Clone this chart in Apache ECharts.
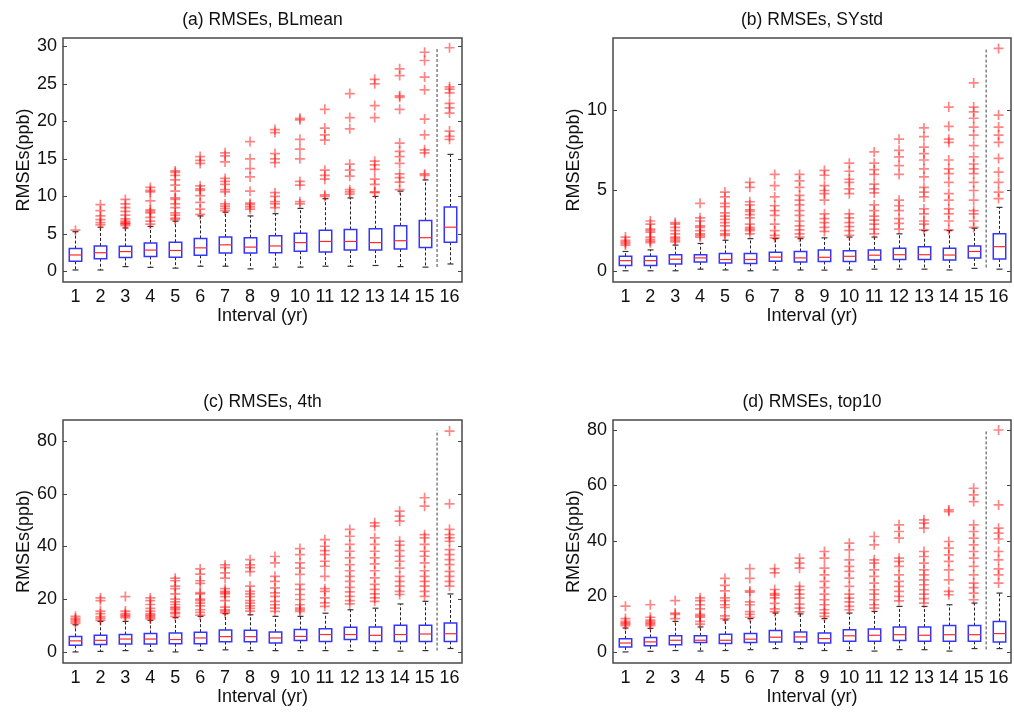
<!DOCTYPE html>
<html><head><meta charset="utf-8">
<script src="https://cdn.jsdelivr.net/npm/echarts@6/dist/echarts.min.js"></script>
<style>html,body{margin:0;padding:0;background:#fff}#c{width:1014px;height:713px}</style>
</head><body><div id="c"></div>
<script>
const categories = ['1','2','3','4','5','6','7','8','9','10','11','12','13','14','15','16'];
const xName = 'Interval (yr)';
const yName = 'RMSEs(ppb)';
const titles = ['(a) RMSEs, BLmean', '(b) RMSEs, SYstd', '(c) RMSEs, 4th', '(d) RMSEs, top10'];
const yTicksA = [0,5,10,15,20,25,30];
const yTicksB = [0,5,10];
const yTicksC = [0,20,40,60,80];
const yTicksD = [0,20,40,60,80];

// box stats per interval: [lower whisker, Q1, median, Q3, upper whisker]
const boxA = [[0.2,1.35,2.2,3.05,5.3],[0.2,1.7,2.5,3.4,5.9],[0.65,1.85,2.65,3.35,5.8],[0.55,2.0,2.85,3.8,6.0],
  [0.45,1.9,2.8,3.9,6.7],[0.7,2.15,3.15,4.4,7.4],[0.7,2.45,3.55,4.6,7.9],[0.35,2.45,3.25,4.5,7.4],
  [0.58,2.5,3.4,4.75,7.7],[0.58,2.7,3.85,5.1,8.4],[0.7,2.6,4.0,5.5,9.7],[0.7,2.85,4.0,5.6,9.8],
  [0.8,2.85,3.85,5.7,10.0],[0.65,3.0,4.1,6.1,10.7],[0.58,3.2,4.5,6.8,12.2],[1.0,3.9,5.9,8.6,15.6]];
const outA = [[5.5],[6.2,6.5,6.9,7.4,8.1,8.9],[6.1,6.3,6.4,6.5,6.7,7.0,7.5,8.0,8.5,9.0,9.6],
  [6.3,6.7,7.2,7.8,8.0,8.2,9.4,10.6,10.8,11.2],[6.9,7.1,7.5,7.8,8.5,9.0,9.6,9.8,10.7,11.5,12.2,12.8,13.2,13.4],
  [7.6,8.3,9.2,10.1,10.8,11.0,11.4,14.4,14.8,15.3],[8.1,8.4,8.7,9.0,10.6,10.9,11.6,12.0,12.4,14.6,15.4,15.8],
  [8.3,8.6,8.9,9.1,10.7,12.6,13.7,15.0,17.3],[8.5,9.0,9.3,10.0,10.5,14.5,15.0,15.7,18.5,18.9],
  [9.0,9.3,11.5,12.0,15.0,16.3,17.6,20.2,20.4],[10.0,10.2,12.3,12.8,13.5,17.5,18.2,19.1,21.6],
  [10.3,10.6,10.9,12.7,13.5,14.3,19.0,20.5,23.7],[10.5,10.6,11.6,12.3,13.6,14.2,14.7,20.5,22.1,25.0,25.6],
  [10.9,11.9,12.5,13.0,14.4,15.3,16.0,17.1,21.6,23.2,23.4,26.1,27.0],[12.8,13.0,15.8,16.2,18.2,20.3,24.2,25.9,28.1,29.2],
  [17.6,18.0,18.7,21.1,21.8,22.4,23.8,24.3,24.6,29.8]];
const sepA = [0.6, 29.8];

const boxB = [[0.0,0.33,0.63,0.9,1.2],[0.0,0.33,0.63,0.9,1.3],[0.0,0.42,0.72,1.0,1.6],[0.1,0.55,0.8,1.0,1.7],
  [0.05,0.48,0.7,1.08,1.9],[0.0,0.46,0.7,1.08,2.0],[0.05,0.6,0.85,1.15,2.0],[0.05,0.55,0.8,1.2,2.0],
  [0.04,0.58,0.84,1.3,2.05],[0.05,0.58,0.9,1.25,2.1],[0.1,0.67,0.97,1.3,2.1],[0.1,0.7,1.0,1.4,2.3],
  [0.1,0.7,1.0,1.5,2.5],[0.05,0.67,0.98,1.4,2.5],[0.15,0.8,1.2,1.55,2.65],[0.1,0.73,1.5,2.3,3.95]];
const outB = [[1.6,1.7,1.8,1.9,2.1],[1.75,1.85,1.95,2.1,2.4,2.5,2.6,2.9,3.1],[1.8,1.9,2.0,2.1,2.3,2.5,2.7,2.9,3.0],
  [2.1,2.2,2.3,2.5,2.7,2.8,3.1,3.3,4.2],[2.2,2.3,2.5,2.8,3.0,3.2,3.4,3.6,4.0,4.2,4.6,4.9],
  [2.3,2.5,2.6,2.7,2.9,3.3,3.5,3.7,3.8,4.1,4.3,5.2,5.5],[2.05,2.2,2.5,2.9,3.45,3.75,4.05,4.6,5.3,6.0],
  [2.1,2.3,2.55,2.8,3.1,3.45,3.75,4.1,4.4,4.7,5.2,5.6,6.0],[2.45,2.7,3.0,3.25,3.55,4.4,4.8,5.0,5.3,5.95,6.25],
  [2.2,2.5,2.75,3.0,3.3,3.55,4.8,5.1,5.5,5.7,6.2,6.7],[2.3,2.6,2.9,3.15,3.4,3.75,4.1,4.85,5.1,5.4,6.0,6.3,6.7,7.4],
  [2.6,2.95,3.25,3.75,4.05,4.4,6.0,6.55,7.1,7.5,8.2],[2.55,2.9,3.1,3.55,3.85,4.6,4.9,5.2,5.85,6.35,6.9,7.3,7.7,8.35,8.9],
  [2.55,3.1,3.55,3.85,4.4,4.8,5.5,6.05,6.35,6.9,8.0,8.2,9.0,10.2],
  [2.7,3.1,3.55,3.75,4.4,5.0,5.5,6.05,6.35,6.65,7.1,7.8,8.45,8.95,9.5,9.9,10.2,11.7],
  [4.5,4.9,5.5,6.15,7.0,8.0,8.45,8.95,9.7,13.85]];
const sepB = [0.2, 13.8];

const boxC = [[0.0,2.5,4.2,5.9,10.3],[0.2,2.8,4.4,6.3,11.6],[0.5,3.0,4.9,6.6,11.6],[0.3,3.0,4.9,7.0,12.0],
  [0.0,3.1,4.7,7.2,13.0],[0.6,3.1,5.3,7.5,13.5],[0.8,3.9,5.8,8.3,14.5],[0.5,3.9,5.8,8.2,14.1],
  [0.5,3.4,5.3,7.6,13.5],[0.5,4.3,5.9,8.5,13.5],[0.5,4.0,6.6,8.8,14.7],[0.5,4.7,6.6,9.4,16.0],
  [0.5,4.0,6.3,9.5,16.6],[0.3,4.0,6.6,10.1,18.2],[0.5,4.0,6.8,10.1,19.2],[1.3,4.0,6.9,11.0,22.0]];
const outC = [[10.8,11.5,12.2,12.7,13.5],[12.0,12.7,13.4,14.5,15.5,19.5,20.5],[13.0,13.5,14.0,14.5,15.5,21.0],
  [12.5,13.0,13.5,14.0,14.5,15.5,16.5,18.0,19.5,20.5],[13.5,14.5,15.0,16.0,16.5,17.0,18.0,19.0,20.0,22.0,24.0,25.0,27.0,28.0],
  [14.0,15.0,16.0,17.5,18.5,19.5,20.0,22.0,22.5,26.0,27.0,29.5,31.5],
  [14.8,15.5,16.0,17.0,19.5,21.0,22.0,22.5,23.0,24.0,28.0,30.0,32.0,33.0],
  [15.5,16.5,17.5,18.5,19.5,21.0,22.0,23.0,25.0,30.5,32.0,33.0,35.0],
  [15.4,16.6,17.9,19.2,21.1,22.4,24.3,26.8,28.7,33.8,36.2],
  [15.4,16.0,16.6,17.9,19.9,21.8,23.7,25.6,29.4,31.8,33.8,36.9,39.2],
  [17.3,18.6,20.5,23.0,24.0,28.7,32.5,34.4,36.9,38.4,40.1,42.6],
  [18.2,19.5,21.1,22.8,24.5,26.8,28.7,30.8,33.1,35.7,38.2,40.8,43.9,46.5],
  [19.2,20.5,22.0,23.7,25.6,28.1,30.8,33.4,35.7,38.2,40.8,43.3,47.7,49.0],
  [21.8,23.0,25.0,26.8,28.7,31.8,34.4,36.3,38.4,40.5,42.0,49.6,51.5,53.4],
  [21.1,23.0,25.0,26.8,28.7,30.8,33.8,36.3,38.2,40.8,43.3,44.5,55.3,58.5],
  [25.0,26.8,28.7,30.6,33.1,35.0,36.9,38.8,42.0,43.3,44.5,46.5,56.2,83.8]];
const sepC = [0.5, 84.1];

const boxD = [[0.0,1.8,3.2,4.7,8.6],[0.2,2.2,3.6,5.2,8.5],[0.5,2.6,4.2,5.8,11.0],[0.3,3.4,4.2,5.8,9.0],
  [0.5,3.0,4.2,6.4,11.5],[0.8,3.4,4.6,6.6,12.0],[1.2,3.6,5.3,7.7,14.0],[1.2,3.6,5.4,7.2,13.7],
  [0.5,3.2,4.8,6.8,12.0],[0.5,3.8,5.8,8.0,14.0],[0.3,3.8,6.0,8.3,14.6],[0.8,4.1,6.2,9.0,16.4],
  [0.8,3.8,6.0,9.0,16.4],[0.3,3.8,6.2,9.5,17.0],[1.2,3.8,6.2,9.5,17.6],[1.2,3.6,6.6,11.0,21.2]];
const outD = [[9.5,10.0,10.5,11.0,12.0,16.5],[9.5,10.0,10.5,11.0,11.5,12.5,17.0],[12.0,13.5,14.0,18.5],
  [10.0,11.0,12.5,13.0,13.5,15.5,17.0,18.5,19.5],[12.0,13.0,16.0,17.0,18.5,19.5,22.0,24.0,26.5],
  [12.5,13.5,14.5,17.0,18.0,21.5,22.0,26.5,30.0],[14.5,15.5,17.5,19.5,20.5,21.0,22.5,28.5,30.0],
  [14.4,15.8,17.2,19.4,20.8,22.4,23.6,30.2,32.0,33.8],
  [12.8,14.0,15.2,17.0,18.8,20.8,23.2,25.4,27.8,30.2,33.8,36.2],
  [15.2,16.4,18.0,19.4,20.8,23.6,26.6,29.0,30.8,33.2,36.8,39.2],
  [15.8,17.0,18.8,20.8,22.4,24.8,27.2,29.6,32.0,33.2,38.6,41.6],
  [18.4,20.0,21.8,23.6,25.4,27.8,30.8,32.6,33.8,41.0,43.4,45.8],
  [17.6,19.2,20.8,22.4,24.2,26.0,27.8,29.6,32.0,34.4,36.2,44.6,46.4,47.6],
  [20.6,21.8,26.0,29.6,32.6,35.0,37.4,39.8,50.6,51.2],
  [18.8,21.2,23.2,24.8,27.8,30.8,33.8,36.2,38.6,41.0,43.4,45.8,54.2,56.6,59.0],
  [24.8,27.8,29.9,33.2,36.2,40.7,42.8,44.6,53.0,80.0]];
const sepD = [0.9, 80.0];

const FONT = '"Liberation Sans", Arial, Helvetica, sans-serif';
const panels = [
  {title: titles[0], box: boxA, out: outA, sep: sepA, ticks: yTicksA, min: -1.4, max: 31.1, g: {left: 63, top: 38, width: 399, height: 244}},
  {title: titles[1], box: boxB, out: outB, sep: sepB, ticks: yTicksB, min: -0.7, max: 14.5, g: {left: 613, top: 38, width: 398, height: 244}},
  {title: titles[2], box: boxC, out: outC, sep: sepC, ticks: yTicksC, min: -4.2, max: 88, g: {left: 63, top: 420, width: 399, height: 243}},
  {title: titles[3], box: boxD, out: outD, sep: sepD, ticks: yTicksD, min: -4.0, max: 83.6, g: {left: 613, top: 420, width: 398, height: 243}}
];

const plusPath = 'path://M4.15,0 L5.85,0 L5.85,4.15 L10,4.15 L10,5.85 L5.85,5.85 L5.85,10 L4.15,10 L4.15,5.85 L0,5.85 L0,4.15 L4.15,4.15 Z';

function renderBox(params, api) {
  const k = api.value(0);
  const lo = api.coord([k, api.value(1)]);
  const q1 = api.coord([k, api.value(2)]);
  const md = api.coord([k, api.value(3)]);
  const q3 = api.coord([k, api.value(4)]);
  const hi = api.coord([k, api.value(5)]);
  const band = api.size([1, 0])[0];
  const hw = band * 0.25, cw = band * 0.12;
  const x = Math.round(lo[0]) + 0.5;
  const dash = {stroke: '#222', lineWidth: 1, lineDash: [3, 2], fill: null};
  const cap = {stroke: '#333', lineWidth: 1.2, fill: null};
  return {type: 'group', children: [
    {type: 'line', shape: {x1: x, y1: q3[1], x2: x, y2: hi[1]}, style: dash},
    {type: 'line', shape: {x1: x, y1: q1[1], x2: x, y2: lo[1]}, style: dash},
    {type: 'line', shape: {x1: x - cw, y1: hi[1], x2: x + cw, y2: hi[1]}, style: cap},
    {type: 'line', shape: {x1: x - cw, y1: lo[1], x2: x + cw, y2: lo[1]}, style: cap},
    {type: 'rect', shape: {x: x - hw, y: q3[1], width: 2 * hw, height: q1[1] - q3[1]}, style: {fill: '#fff', stroke: '#3535ff', lineWidth: 1.5}},
    {type: 'line', shape: {x1: x - hw, y1: md[1], x2: x + hw, y2: md[1]}, style: {stroke: '#ff2a2a', lineWidth: 1.2}}
  ]};
}

const grid = [], xAxis = [], yAxis = [], series = [], graphic = [];
panels.forEach((p, i) => {
  grid.push(Object.assign({show: true, borderColor: '#4a4a4a', borderWidth: 1.5, backgroundColor: 'transparent', containLabel: false}, p.g));
  xAxis.push({type: 'category', gridIndex: i, data: categories, boundaryGap: true,
    axisLine: {show: false}, axisTick: {show: false}, splitLine: {show: false},
    axisLabel: {fontSize: 18, color: '#111', margin: 6, fontFamily: FONT, interval: 0},
    name: xName, nameLocation: 'middle', nameGap: 24,
    nameTextStyle: {fontSize: 18, color: '#111', fontFamily: FONT}});
  xAxis.push({type: 'value', gridIndex: i, min: 0.5, max: 16.5, show: false});
  yAxis.push({type: 'value', gridIndex: i, min: p.min, max: p.max, position: 'left',
    axisLine: {show: false}, splitLine: {show: false},
    axisTick: {show: true, inside: true, length: 4, customValues: p.ticks, lineStyle: {color: '#444'}},
    axisLabel: {customValues: p.ticks, fontSize: 18, color: '#111', margin: 6, fontFamily: FONT},
    name: yName, nameLocation: 'middle', nameGap: 30, nameRotate: 90,
    nameTextStyle: {fontSize: 18, color: '#111', fontFamily: FONT}});
  yAxis.push({type: 'value', gridIndex: i, min: p.min, max: p.max, position: 'right',
    axisLine: {show: false}, splitLine: {show: false},
    axisTick: {show: true, inside: true, length: 4, customValues: p.ticks, lineStyle: {color: '#444'}},
    axisLabel: {show: false}});
  series.push({type: 'line', xAxisIndex: 2 * i + 1, yAxisIndex: 2 * i, symbol: 'none', silent: true,
    data: [[15.5, p.sep[0]], [15.5, p.sep[1]]],
    lineStyle: {color: '#444', width: 1, type: [3, 2]}, z: 1});
  series.push({type: 'custom', xAxisIndex: 2 * i, yAxisIndex: 2 * i, renderItem: renderBox,
    encode: {x: 0, y: [1, 2, 3, 4, 5]}, silent: true, z: 2,
    data: p.box.map((b, k) => [k].concat(b))});
  const pts = [];
  p.out.forEach((arr, k) => arr.forEach(v => pts.push([k, v])));
  series.push({type: 'scatter', xAxisIndex: 2 * i, yAxisIndex: 2 * i, symbol: plusPath, symbolSize: 10,
    silent: true, z: 3, data: pts, itemStyle: {color: 'rgba(255,0,0,0.6)'}});
  graphic.push({type: 'text', x: p.g.left + p.g.width / 2, y: p.g.top - 18,
    style: {text: p.title, fontSize: 17.5, fontFamily: FONT, fill: '#111', align: 'center', verticalAlign: 'middle'}});
});

const chart = echarts.init(document.getElementById('c'), null, {renderer: 'canvas'});
chart.setOption({animation: false, backgroundColor: '#fff', grid, xAxis, yAxis, series, graphic});
</script>
</body></html>
